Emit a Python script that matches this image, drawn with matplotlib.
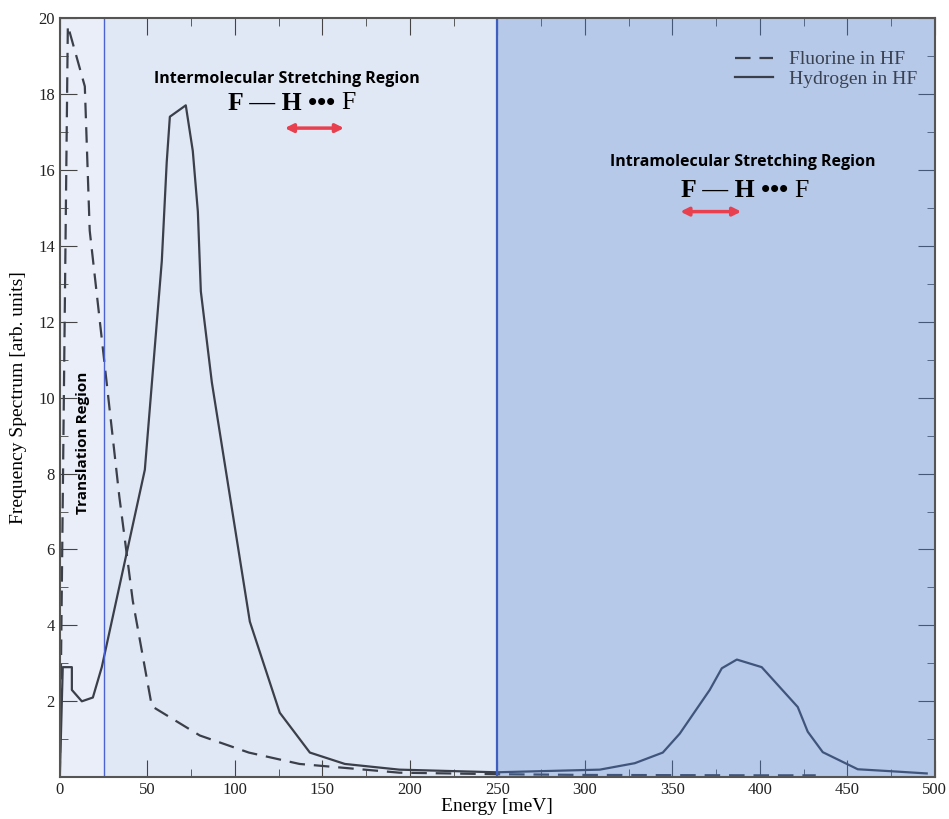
import numpy as np
import matplotlib.pyplot as plt
from matplotlib.ticker import MultipleLocator, FixedLocator

# Données
e_h = [0, 1.7, 6.9, 6.9, 12.6, 18.9, 24, 48.6, 58.3, 61.1, 62.9, 72, 76, 78.9, 80.6,
       86.9, 108.6, 125.7, 142.9, 162.9, 194, 249.7, 308.6, 328.6, 344.6, 354.3,
       371.4, 378.3, 386.9, 401.1, 421.7, 427.4, 436, 456, 474.3, 495.4]
s_h = [0, 2.9, 2.9, 2.3, 2.0, 2.1, 2.9, 8.1, 13.6, 16.2, 17.4, 17.7, 16.5, 14.9, 12.8,
       10.4, 4.1, 1.7, 0.65, 0.35, 0.2, 0.13, 0.2, 0.37, 0.65, 1.15,
       2.3, 2.87, 3.1, 2.9, 1.85, 1.2, 0.66, 0.21, 0.16, 0.1]

e_f = [0, 4.6, 14.3, 17.1, 24.6, 34, 41.7, 52.6, 80, 108, 137, 194, 250, 300, 400, 432]
s_f = [0, 19.8, 18.2, 14.4, 11.3, 7.4, 4.65, 1.87, 1.1, 0.65, 0.35, 0.12, 0.08, 0.06, 0.05, 0.05]

fig = plt.figure(figsize=(9.49, 8.19), dpi=100)
ax = fig.add_axes([0.063, 0.051, 0.922, 0.927])

ax.axvspan(0, 25, color='#e9eef8', zorder=0, lw=0)
ax.axvspan(25, 250, color='#e1e8f5', zorder=0, lw=0)

line_col = '#3a3f4a'
ax.plot(e_f, s_f, color=line_col, lw=1.6, ls=(0, (7, 4)), label='Fluorine in HF', zorder=2)
ax.plot(e_h, s_h, color=line_col, lw=1.6, label='Hydrogen in HF', zorder=2)

# zone bleue par-dessus les courbes
ax.axvspan(250, 500, color='#4a78c8', alpha=0.4, zorder=3, lw=0)
ax.axvline(25, color='#4a63d0', lw=1, zorder=4)
ax.axvline(250, color='#3f5fc0', lw=1.6, zorder=4)

ax.set_xlim(0, 500)
ax.set_ylim(0, 20)
ax.xaxis.set_major_locator(MultipleLocator(50))
ax.xaxis.set_minor_locator(MultipleLocator(25))
ax.yaxis.set_major_locator(FixedLocator([2, 4, 6, 8, 10, 12, 14, 16, 18, 20]))
ax.yaxis.set_minor_locator(MultipleLocator(1))
ax.tick_params(which='both', direction='in', top=True, right=True, colors='#444444',
               labelcolor='#222222', labelsize=12)
ax.tick_params(which='major', length=12)
ax.tick_params(which='minor', length=6)
for lab in ax.get_xticklabels() + ax.get_yticklabels():
    lab.set_family('Liberation Serif')
for sp in ax.spines.values():
    sp.set_color('#555555')
    sp.set_linewidth(1.5)
    sp.set_zorder(5)

ax.set_xlabel('Energy [meV]', family='Liberation Serif', fontsize=14, labelpad=0)
ax.set_ylabel('Frequency Spectrum [arb. units]', family='Liberation Serif', fontsize=14, labelpad=8)

leg = ax.legend(loc='upper right', frameon=False, prop={'family': 'Liberation Serif', 'size': 14},
                handlelength=2.0, labelspacing=0.1, handletextpad=0.8,
                bbox_to_anchor=(1.0, 0.98))
for t in leg.get_texts():
    t.set_color('#3a4150')

# annotations
arrow = dict(arrowstyle='<|-|>', color='#e8404f', lw=2.5, mutation_scale=12)
formule = 'F \u2014 H \u2022\u2022\u2022'

ax.text(130, 18.4, 'Intermolecular Stretching Region', ha='center', va='center',
        family='Open Sans', fontweight='bold', fontsize=11.5, zorder=6)
ax.text(157.5, 17.75, formule, ha='right', va='center',
        family='Liberation Serif', fontweight='bold', fontsize=18.5, zorder=6)
ax.text(161, 17.75, 'F', ha='left', va='center',
        family='Liberation Serif', fontsize=18.5, zorder=6)
ax.annotate('', xy=(127, 17.1), xytext=(164, 17.1), arrowprops=arrow, zorder=6)

ax.text(390, 16.2, 'Intramolecular Stretching Region', ha='center', va='center',
        family='Open Sans', fontweight='bold', fontsize=11.5, zorder=6)
ax.text(416, 15.45, formule, ha='right', va='center',
        family='Liberation Serif', fontweight='bold', fontsize=18.5, zorder=6)
ax.text(419.5, 15.45, 'F', ha='left', va='center',
        family='Liberation Serif', fontsize=18.5, zorder=6)
ax.annotate('', xy=(353, 14.9), xytext=(391, 14.9), arrowprops=arrow, zorder=6)

ax.text(13.5, 8.8, 'Translation Region', rotation=90, ha='center', va='center',
        family='Open Sans', fontweight='bold', fontsize=11, zorder=6)

fig.savefig('out.png', dpi=100)
